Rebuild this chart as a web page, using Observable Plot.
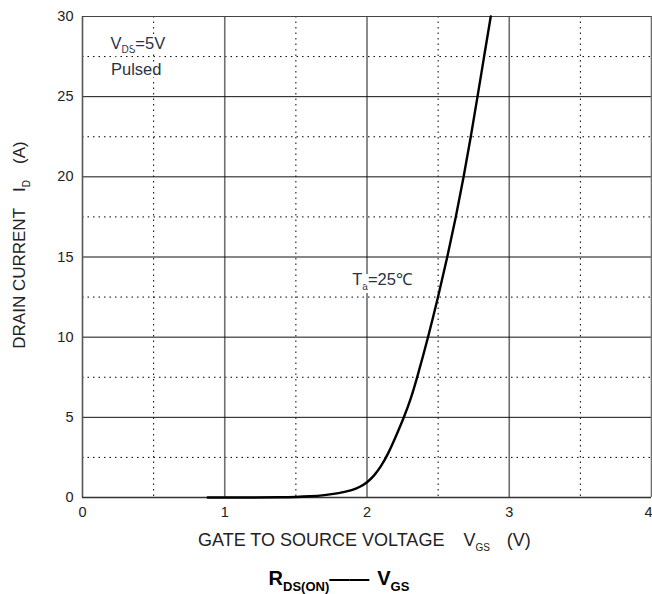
<!DOCTYPE html>
<html>
<head>
<meta charset="utf-8">
<script src="https://cdn.jsdelivr.net/npm/d3@7"></script>
<script src="https://cdn.jsdelivr.net/npm/@observablehq/plot@0.6"></script>
<style>
  html, body { margin: 0; padding: 0; background: #fff; }
  svg { display: block; font-family: "Liberation Sans", Arial, sans-serif; }
</style>
</head>
<body>
<div id="chart"></div>
<script>
// Data
const vgs = [0.88, 1.2, 1.4, 1.5, 1.6, 1.7, 1.8, 1.9, 1.95, 2.0, 2.05, 2.1, 2.15, 2.2, 2.26, 2.31, 2.35, 2.43, 2.5, 2.565, 2.625, 2.68, 2.73, 2.777, 2.823, 2.87];
const idA = [0, 0, 0.01, 0.03, 0.07, 0.14, 0.26, 0.46, 0.66, 0.93, 1.35, 1.95, 2.75, 3.75, 5.0, 6.2, 7.4, 10.0, 12.5, 15.0, 17.5, 20.0, 22.5, 25.0, 27.5, 30.0];

const xTicks = [0, 1, 2, 3];
const xTickEdge = [4];
const yTicks = [0, 5, 10, 15, 20, 25, 30];
const xMajor = [1, 2, 3];
const yMajor = [5, 10, 15, 20, 25];
const xMinor = [0.5, 1.5, 2.5, 3.5];
const yMinor = [2.5, 7.5, 12.5, 17.5, 22.5, 27.5];

const curve = vgs.map((v, i) => ({vgs: v, id: idA[i]}));

const annVds = [{x: 0.2, y: 28.3}];
const annPulsed = [{x: 0.2, y: 26.65, t: "Pulsed"}];
const annTa = [{x: 1.9, y: 13.6}];

const svg = Plot.plot({
  width: 652,
  height: 594,
  marginLeft: 82,
  marginRight: 1,
  marginTop: 16,
  marginBottom: 97,
  x: {domain: [0, 4]},
  y: {domain: [0, 30]},
  style: {fontFamily: "Liberation Sans, Arial, sans-serif", background: "#fff"},
  marks: [
    Plot.ruleX(xMinor, {stroke: "#000", strokeWidth: 1, strokeDasharray: "1.5,4"}),
    Plot.ruleY(yMinor, {stroke: "#000", strokeWidth: 1, strokeDasharray: "1.5,4"}),
    Plot.ruleX(xMajor, {stroke: "#6e6e6e", strokeWidth: 1.6}),
    Plot.ruleY(yMajor, {stroke: "#111", strokeWidth: 1}),
    Plot.ruleX([0], {stroke: "#555", strokeWidth: 1.6}),
    Plot.ruleY([0], {stroke: "#333", strokeWidth: 1.6}),
    Plot.ruleX([4], {stroke: "#6e6e6e", strokeWidth: 1.6}),
    Plot.ruleY([30], {stroke: "#444", strokeWidth: 1.2}),
    Plot.line(curve, {x: "vgs", y: "id", stroke: "#000", strokeWidth: 2.4, curve: "basis"}),
    Plot.text(annPulsed, {x: "x", y: "y", text: "t", textAnchor: "start", fontSize: 16.5, fill: "#2a3247", stroke: "#fff", strokeWidth: 6}),
    Plot.axisX({ticks: xTicks, tickSize: 0, tickPadding: 9, label: null, fontSize: 14.5, color: "#222",
      tickFormat: d3.format("d")}),
    Plot.axisX({ticks: xTickEdge, tickSize: 0, tickPadding: 9, label: null, fontSize: 14.5, color: "#222",
      tickFormat: d3.format("d"), textAnchor: "end", dx: 1}),
    Plot.axisY({ticks: yTicks, tickSize: 0, tickPadding: 9, label: null, fontSize: 14.5, color: "#222"})
  ]
});

const root = d3.select(svg);
const sx = svg.scale("x"), sy = svg.scale("y");
const X = v => sx.apply(v), Y = v => sy.apply(v);

function subText(g, x, y, parts, opts) {
  const t = g.append("text")
    .attr("x", x).attr("y", y)
    .attr("font-size", opts.size)
    .attr("fill", opts.fill || "#222")
    .attr("font-weight", opts.weight || "normal")
    .attr("text-anchor", opts.anchor || "start");
  if (opts.halo) t.attr("stroke", "#fff").attr("stroke-width", 6).attr("paint-order", "stroke");
  if (opts.transform) t.attr("transform", opts.transform);
  let shifted = false;
  parts.forEach(p => {
    const s = t.append("tspan").text(p.t);
    if (p.sub) {
      s.attr("font-size", opts.subSize).attr("dy", shifted ? 0 : opts.subDy);
      shifted = true;
    } else if (shifted) {
      s.attr("dy", -opts.subDy);
      shifted = false;
    }
    if (p.dx) s.attr("dx", p.dx);
  });
  return t;
}

const g = root.append("g");
// V_DS = 5V annotation
subText(g, X(annVds[0].x), Y(annVds[0].y) + 6, [
  {t: "V"}, {t: "DS", sub: true}, {t: "=5V"}
], {size: 16.5, subSize: 10, subDy: 4, fill: "#2a3247", halo: true});
// T_a = 25 C annotation
subText(g, X(annTa[0].x), Y(annTa[0].y) + 6, [
  {t: "T"}, {t: "a", sub: true}, {t: "=25℃"}
], {size: 16.5, subSize: 10, subDy: 5, fill: "#2a3247", halo: true});

// x-axis title
subText(g, 198, 546, [
  {t: "GATE TO SOURCE VOLTAGE"}, {t: "V", dx: 19}, {t: "GS", sub: true}, {t: "(V)", dx: 17}
], {size: 18, subSize: 10, subDy: 5, fill: "#222"});

// y-axis title (rotated)
subText(g, 0, 0, [
  {t: "DRAIN CURRENT"}, {t: "I", dx: 16}, {t: "D", sub: true}, {t: "(A)", dx: 16}
], {size: 17, subSize: 10, subDy: 5, fill: "#222", anchor: "middle", transform: "translate(25,245) rotate(-90)"});

// chart title
subText(g, 339, 585, [
  {t: "R"}, {t: "DS(ON)", sub: true}, {t: "——", dx: 0}, {t: "V", dx: 8}, {t: "GS", sub: true}
], {size: 20, subSize: 13, subDy: 6, fill: "#000", weight: "bold", anchor: "middle"});

document.getElementById("chart").appendChild(svg);
</script>
</body>
</html>
